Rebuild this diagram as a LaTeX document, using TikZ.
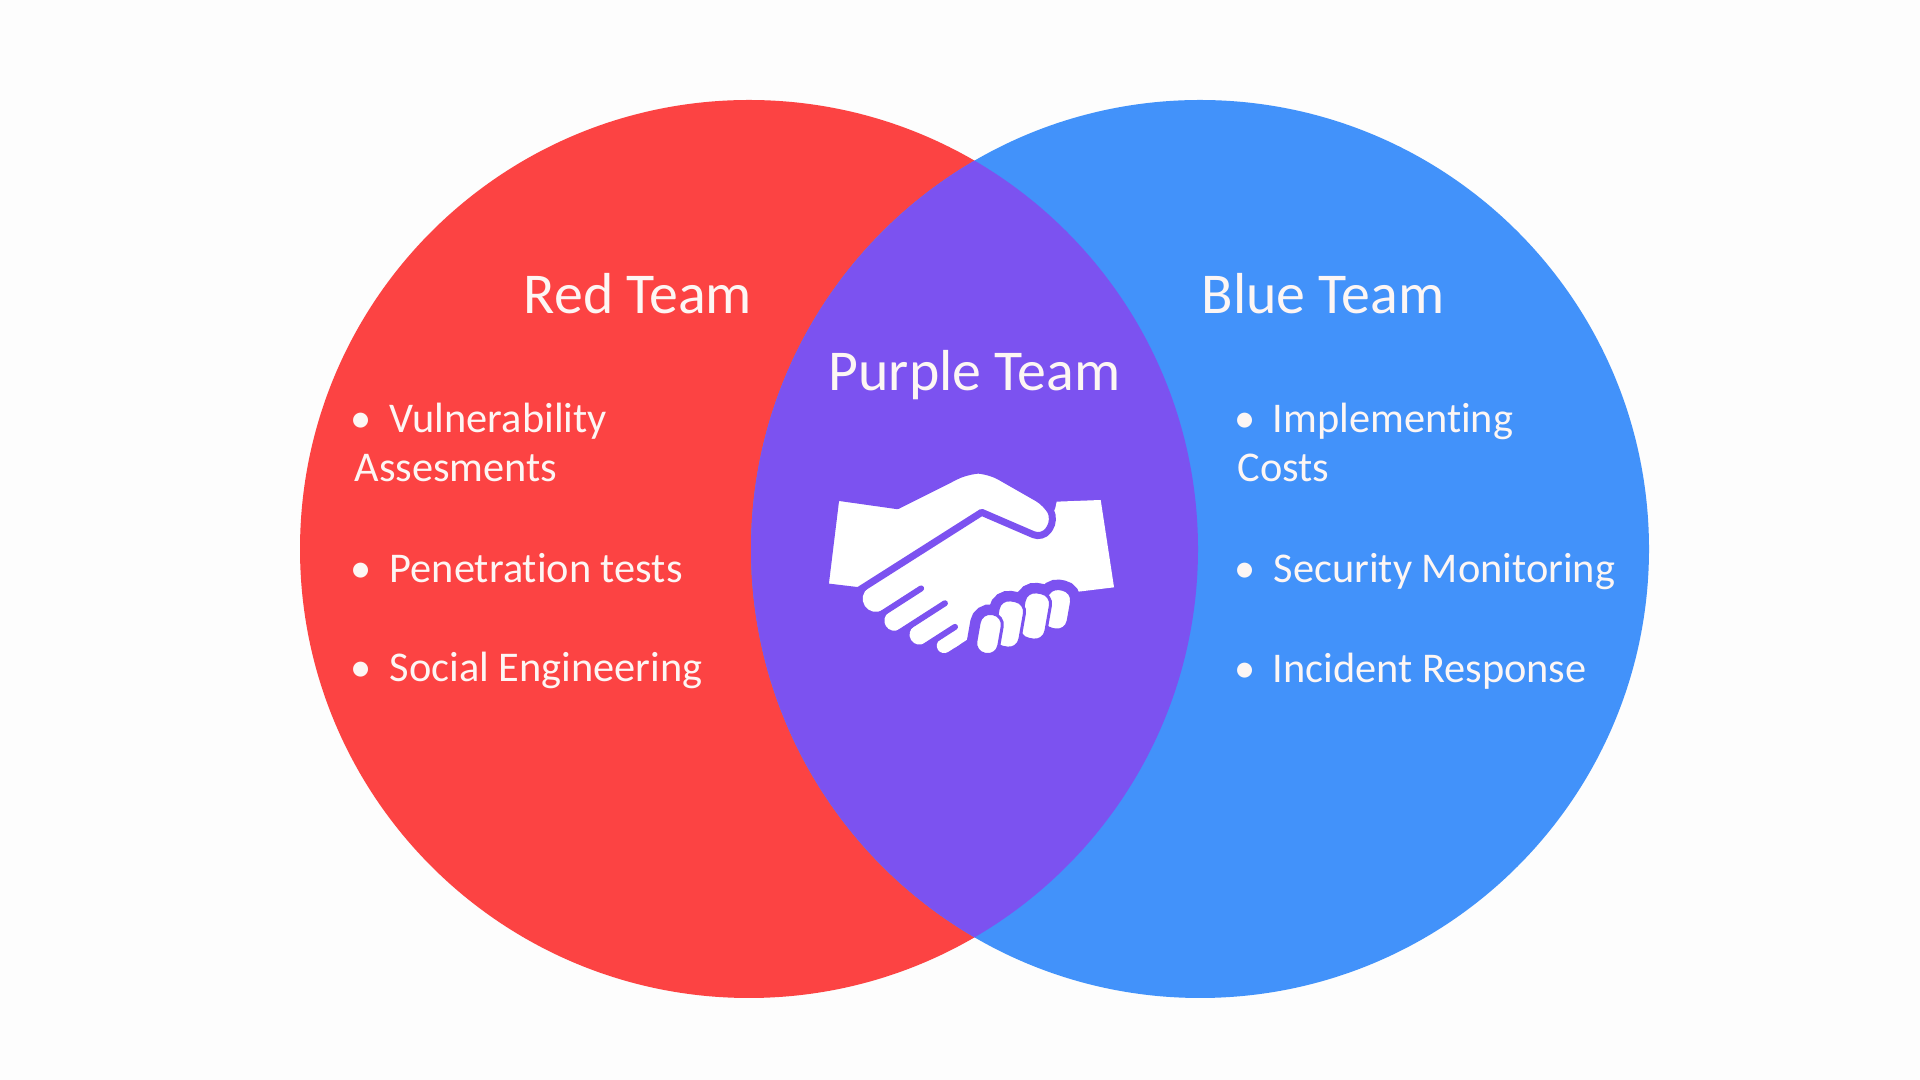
\documentclass[tikz,border=0pt]{standalone}
\usepackage{fontspec}
\setmainfont{Carlito}[Ligatures=NoCommon]
\definecolor{bg}{HTML}{FDFDFD}
\definecolor{teamred}{HTML}{FC4343}
\definecolor{teamblue}{HTML}{4292FA}
\definecolor{teampurple}{HTML}{7C52F0}
\definecolor{txt}{HTML}{FDF6F4}
\begin{document}
\begin{tikzpicture}[
  title/.style={font=\fontsize{16.45pt}{19pt}\selectfont, text=txt, inner sep=0pt, anchor=base},
  item/.style={font=\fontsize{12.05pt}{14pt}\selectfont, text=txt, inner sep=0pt, anchor=base west},
  bul/.style={font=\fontsize{12.05pt}{14pt}\selectfont, text=txt, inner sep=0pt, anchor=base},
  handpart/.style={fill=white, draw=none},
  finger/.style={white, line cap=round},
  sep/.style={teampurple, line cap=round, line width=0.6mm},
  halo/.style={fill=teampurple, draw=teampurple, line width=1.8mm, rounded corners=1.1mm},
  knuckle/.style={fill=white, draw=teampurple, line width=0.3mm, rounded corners=1.1mm}
]
\fill[bg] (0,0) rectangle (19.2,10.8);
\useasboundingbox (0,0) rectangle (19.2,10.8);

\coordinate (redc) at (7.49,5.31);
\coordinate (bluec) at (12.00,5.31);
\fill[teamred] (redc) circle[radius=4.49];
\fill[teamblue] (bluec) circle[radius=4.49];
\begin{scope}
  \clip (redc) circle[radius=4.49];
  \fill[teampurple] (bluec) circle[radius=4.49];
\end{scope}

% titles
\node[title] (redtitle) at (6.38,7.66) {Red Team};
\node[title] (purpletitle) at (9.745,6.89) {Purple Team};
\node[title] (bluetitle) at (13.23,7.66) {Blue Team};

% red list
\node[bul] (rb1) at (3.61,6.47) {•};
\node[item] (r1) at (3.89,6.47) {Vulnerability};
\node[item] (r1b) at (3.54,5.98) {Assesments};
\node[bul] (rb2) at (3.61,4.97) {•};
\node[item] (r2) at (3.89,4.97) {Penetration tests};
\node[bul] (rb3) at (3.61,3.98) {•};
\node[item] (r3) at (3.89,3.98) {Social Engineering};

% blue list
\node[bul] (bb1) at (12.45,6.47) {•};
\node[item] (b1) at (12.72,6.47) {Implementing};
\node[item] (b1b) at (12.37,5.98) {Costs};
\node[bul] (bb2) at (12.45,4.97) {•};
\node[item] (b2) at (12.73,4.97) {Security Monitoring};
\node[bul] (bb3) at (12.45,3.97) {•};
\node[item] (b3) at (12.72,3.97) {Incident Response};

% handshake icon
\begin{scope}[shift={(8,6.6)}, x=0.033333mm, y=-0.033333mm]
  % lower hand with right sleeve
  \fill[handpart] (303.9,433) -- (545,280) -- (700,320) -- (765,268) -- (770,245)
     -- (902,240) -- (942,502) -- (835,515) -- (650,560) -- (548.6,628.6)
     -- (464.5,682.7) -- cycle;
  \begin{scope}[shift={(196.6,543.6)}, rotate=32.75]
    \draw[finger, line width=2.63mm] (30,10.5) -- (165,10.5);
    \draw[finger, line width=2.0mm] (41,96) -- (165,96);
    \draw[finger, line width=2.0mm] (82,172) -- (165,172);
    \draw[finger, line width=1.47mm] (126,240) -- (165,240);
    \draw[sep] (0,58) -- (161,58);
    \draw[sep] (20,134) -- (197,134);
    \draw[sep] (60,210) -- (184,210);
  \end{scope}
  % upper hand with left sleeve
  \filldraw[fill=white, draw=teampurple, line width=0.7mm, line join=round]
     (108,231) -- (292,257) [rounded corners=1.3mm] -- (505,150) -- (565,150)
     [rounded corners=1mm] -- (740,250) -- (766,300) -- (728,356) [sharp corners] -- (545,277)
     -- (175,512) -- (75,500) -- cycle;
  % fist: purple halo, then the four curled fingers
  \foreach \cx/\cy/\rx/\ry in {772/568/38/62, 705/588/40/72, 627/612/40/72, 567/642/35/62}{
    \begin{scope}[shift={(\cx,\cy)}, rotate=-10]
      \filldraw[halo] (-\rx,-\ry) rectangle (\rx,\ry);
    \end{scope}
  }
  \foreach \cx/\cy/\rx/\ry in {772/568/38/62, 705/588/40/72, 627/612/40/72, 567/642/35/62}{
    \begin{scope}[shift={(\cx,\cy)}, rotate=-10]
      \filldraw[knuckle] (-\rx,-\ry) rectangle (\rx,\ry);
    \end{scope}
  }
\end{scope}
\end{tikzpicture}
\end{document}
